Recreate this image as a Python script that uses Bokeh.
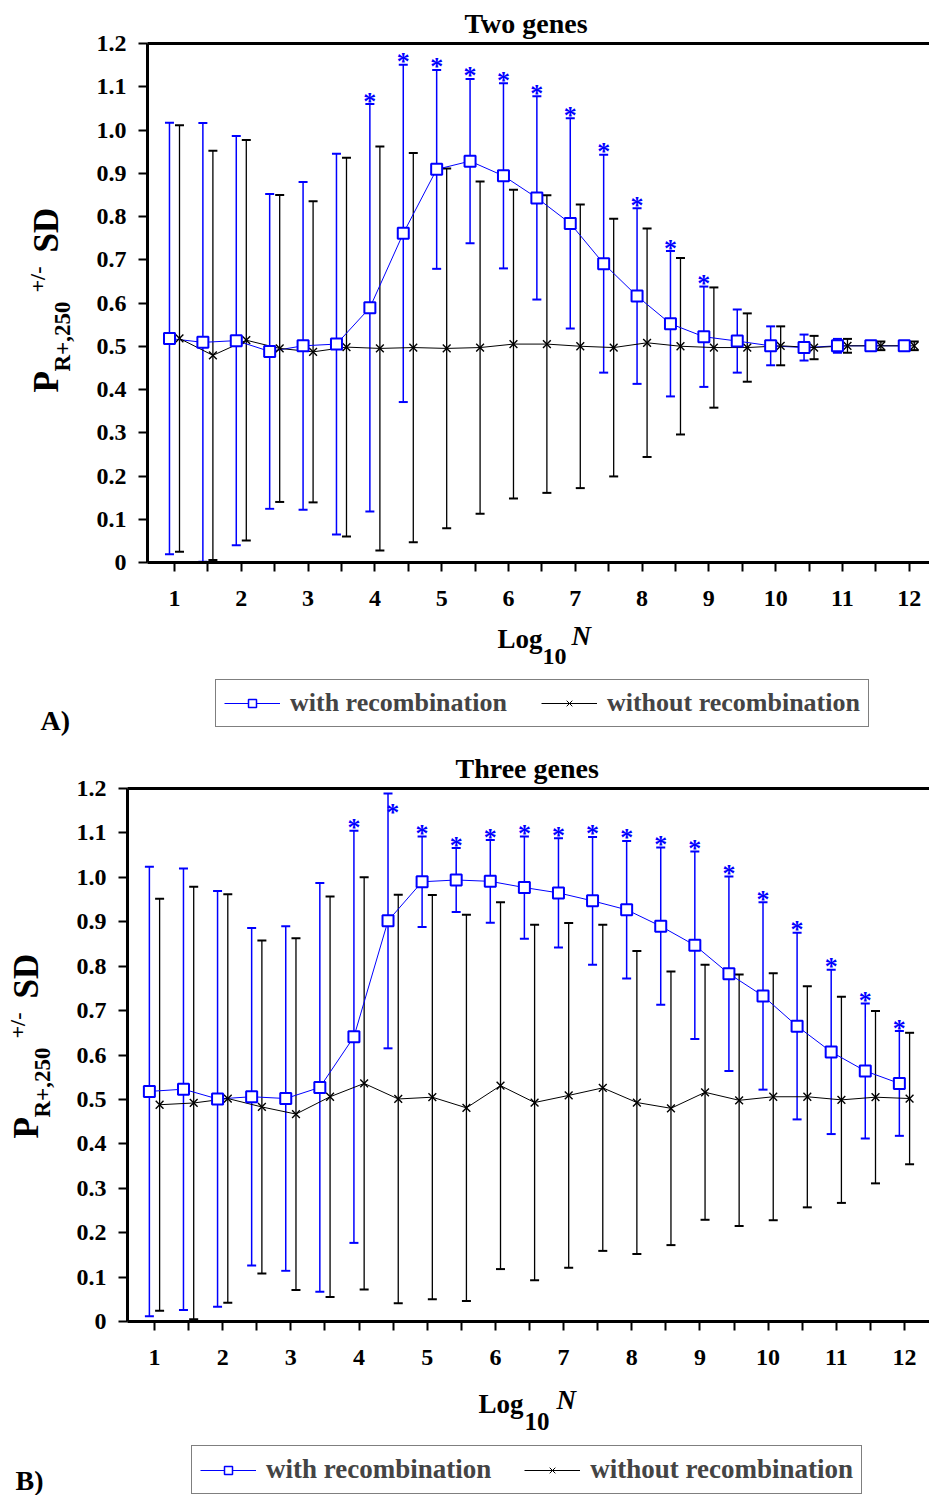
import math
from bokeh.plotting import figure
from bokeh.models import (Range1d, LinearAxis, FixedTicker, Legend, LegendItem, ColumnDataSource,
                          Title)
from bokeh.layouts import column, row
from bokeh.embed import file_html
from bokeh.resources import INLINE
from bokeh.core.properties import value

# ---------------- data ----------------
log10_n = [1.0, 1.5, 2.0, 2.5, 3.0, 3.5, 4.0, 4.5, 5.0, 5.5, 6.0, 6.5,
           7.0, 7.5, 8.0, 8.5, 9.0, 9.5, 10.0, 10.5, 11.0, 11.5, 12.0]

# A) Two genes
two_rec_mean = [0.518, 0.509, 0.513, 0.488, 0.501, 0.505, 0.589, 0.761, 0.909, 0.928, 0.894, 0.843,
                0.784, 0.691, 0.616, 0.552, 0.522, 0.512, 0.501, 0.497, 0.501, 0.501, 0.501]
two_rec_sd = [0.499, 0.507, 0.473, 0.364, 0.379, 0.440, 0.471, 0.390, 0.230, 0.190, 0.214, 0.235,
              0.243, 0.252, 0.203, 0.168, 0.116, 0.073, 0.045, 0.030, 0.016, 0.008, 0.008]
two_norec_mean = [0.518, 0.479, 0.514, 0.495, 0.487, 0.498, 0.495, 0.497, 0.495, 0.497, 0.505, 0.505,
                  0.500, 0.497, 0.508, 0.500, 0.497, 0.497, 0.501, 0.497, 0.501, 0.501, 0.501]
two_norec_sd = [0.493, 0.473, 0.463, 0.355, 0.348, 0.438, 0.467, 0.450, 0.416, 0.384, 0.357, 0.344,
                0.328, 0.298, 0.264, 0.204, 0.139, 0.079, 0.045, 0.027, 0.016, 0.010, 0.010]
two_signif = [0, 0, 0, 0, 0, 0, 1, 1, 1, 1, 1, 1, 1, 1, 1, 1, 1, 0, 0, 0, 0, 0, 0]

# B) Three genes
three_rec_mean = [0.518, 0.523, 0.501, 0.506, 0.502, 0.527, 0.641, 0.902, 0.990, 0.994, 0.991, 0.977,
                  0.965, 0.947, 0.927, 0.890, 0.847, 0.783, 0.733, 0.665, 0.607, 0.564, 0.536]
three_rec_sd = [0.506, 0.497, 0.468, 0.380, 0.388, 0.460, 0.464, 0.287, 0.102, 0.072, 0.093, 0.115,
                0.123, 0.144, 0.155, 0.177, 0.211, 0.219, 0.211, 0.210, 0.185, 0.152, 0.118]
three_norec_mean = [0.488, 0.492, 0.502, 0.483, 0.467, 0.506, 0.536, 0.501, 0.505, 0.481, 0.531, 0.493,
                    0.509, 0.526, 0.493, 0.480, 0.516, 0.498, 0.506, 0.506, 0.499, 0.505, 0.502]
three_norec_sd = [0.464, 0.487, 0.460, 0.375, 0.396, 0.451, 0.464, 0.460, 0.455, 0.435, 0.413, 0.400,
                  0.388, 0.367, 0.341, 0.308, 0.287, 0.283, 0.278, 0.249, 0.232, 0.194, 0.148]
three_signif = [0, 0, 0, 0, 0, 0, 1, 1, 1, 1, 1, 1, 1, 1, 1, 1, 1, 1, 1, 1, 1, 1, 1]

x_ticks = [1.0, 1.5, 2.0, 2.5, 3.0, 3.5, 4.0, 4.5, 5.0, 5.5, 6.0, 6.5,
           7.0, 7.5, 8.0, 8.5, 9.0, 9.5, 10.0, 10.5, 11.0, 11.5, 12.0]
y_ticks = [0.0, 0.1, 0.2, 0.3, 0.4, 0.5, 0.6, 0.7, 0.8, 0.9, 1.0, 1.1, 1.2]

SERIF = "Liberation Serif"
BLUE = "#0000FF"
BLACK = "#000000"
OFFSET = 0.075   # horizontal offset between the two series
W = 929
MID = 0.3375     # baseline sits this many ems below the "middle" anchor
NAN = float("nan")
BT, BB = 43, 60  # top / bottom borders of the chart figures


def text_fig(w, h, page_top, bt=0, bb=0):
    fh = h - bt - bb
    f = figure(width=w, height=h, output_backend="svg", toolbar_location=None,
               x_range=Range1d(0, w), y_range=Range1d(0, fh),
               min_border_left=0, min_border_right=0, min_border_top=bt, min_border_bottom=bb,
               x_axis_type=None, y_axis_type=None, title=None)
    f.xgrid.visible = False
    f.ygrid.visible = False
    f.outline_line_color = None
    f.background_fill_color = "white"
    f.border_fill_color = "white"
    f.tags = [page_top + bt, fh]     # page y of the frame top, frame height
    return f


def put(f, cx, cy, txt, size, style="bold", align="left", rotated=False):
    """cx: page x of text start; cy: page y of the text baseline (for rotated text,
    cx is the baseline x and cy the start y)."""
    ftop, fh = f.tags
    if rotated:
        x = cx - MID * size
        y = fh - (cy - ftop)
        angle = math.pi / 2
    else:
        x = cx
        y = fh - (cy - MID * size - ftop)
        angle = 0.0
    f.text(x=[x], y=[y], text=[txt], angle=angle,
           text_font=value(SERIF), text_font_style=style, text_font_size=f"{size}px",
           text_align=align, text_baseline="middle", text_color=BLACK)


def main_fig(width, height, left, x_start, x_end, title, title_offset,
             rec_mean, rec_sd, norec_mean, norec_sd, signif):
    p = figure(width=width, height=height, output_backend="svg", toolbar_location=None,
               x_range=Range1d(x_start, x_end), y_range=Range1d(0, 1.2),
               min_border_left=left, min_border_right=0, min_border_top=BT,
               min_border_bottom=BB)
    p.title = Title(text=title, align="left", offset=title_offset, standoff=9,
                    vertical_align="bottom", text_font=SERIF, text_font_style="bold",
                    text_font_size="28px", text_color=BLACK)
    p.xgrid.visible = False
    p.ygrid.visible = False
    p.outline_line_color = None
    p.background_fill_color = "white"
    p.border_fill_color = "white"

    for ax in (p.xaxis[0], p.yaxis[0]):
        ax.axis_line_width = 3
        ax.axis_line_color = BLACK
        ax.major_tick_line_width = 2
        ax.major_tick_line_color = BLACK
        ax.major_tick_out = 9
        ax.major_tick_in = 0
        ax.minor_tick_line_color = None
        ax.major_label_text_font = SERIF
        ax.major_label_text_font_style = "bold"
        ax.major_label_text_font_size = "24px"
        ax.major_label_text_color = BLACK
    p.xaxis.ticker = FixedTicker(ticks=x_ticks)
    p.xaxis.major_label_overrides = {t: (str(int(t)) if t == int(t) else "") for t in x_ticks}
    p.xaxis.major_label_standoff = 19
    p.yaxis.ticker = FixedTicker(ticks=y_ticks)
    p.yaxis.major_label_overrides = {t: ("0" if t == 0 else f"{t:.1f}") for t in y_ticks}
    p.yaxis.major_label_standoff = 12

    top = LinearAxis(ticker=FixedTicker(ticks=[]), axis_line_width=3, axis_line_color=BLACK,
                     major_label_text_font_size="0px", major_tick_line_color=None,
                     minor_tick_line_color=None, major_tick_out=0, major_label_standoff=0)
    p.add_layout(top, "above")

    xr = [x - OFFSET for x in log10_n]
    xn = [x + OFFSET for x in log10_n]
    rec = ColumnDataSource(dict(
        x=xr, m=rec_mean,
        lo=[m - s for m, s in zip(rec_mean, rec_sd)],
        hi=[m + s for m, s in zip(rec_mean, rec_sd)]))
    nor = ColumnDataSource(dict(
        x=xn, m=norec_mean,
        lo=[m - s for m, s in zip(norec_mean, norec_sd)],
        hi=[m + s for m, s in zip(norec_mean, norec_sd)]))

    p.segment(x0="x", y0="lo", x1="x", y1="hi", source=rec, line_color=BLUE, line_width=1.5)
    p.scatter(x="x", y="hi", source=rec, marker="dash", size=9, line_color=BLUE, line_width=2)
    p.scatter(x="x", y="lo", source=rec, marker="dash", size=9, line_color=BLUE, line_width=2)
    p.segment(x0="x", y0="lo", x1="x", y1="hi", source=nor, line_color=BLACK, line_width=1.3)
    p.scatter(x="x", y="hi", source=nor, marker="dash", size=9, line_color=BLACK, line_width=2)
    p.scatter(x="x", y="lo", source=nor, marker="dash", size=9, line_color=BLACK, line_width=2)

    p.line(x="x", y="m", source=rec, line_color=BLUE, line_width=1)
    p.line(x="x", y="m", source=nor, line_color=BLACK, line_width=1)
    p.scatter(x="x", y="m", source=nor, marker="x", size=11, line_color=BLACK, line_width=1.4)
    p.scatter(x="x", y="m", source=rec, marker="square", size=11, fill_color="white",
              line_color=BLUE, line_width=2)

    ax_, ay_ = [], []
    for x, m, s, f in zip(xr, rec_mean, rec_sd, signif):
        if f:
            hi = m + s
            if hi > 1.175:
                ax_.append(x + 0.07)
                ay_.append(hi - 0.05)
            else:
                ax_.append(x)
                ay_.append(hi)
    ast = ColumnDataSource(dict(x=ax_, y=ay_, t=["*"] * len(ax_)))
    p.text(x="x", y="y", text="t", source=ast, text_font=value(SERIF), text_font_style="bold",
           text_font_size="26px", text_color=BLUE, text_align="center",
           text_baseline="middle", y_offset=-3)
    return p


def ylabel(f, dx, dy):
    # P_{R+,250} ^{+/-} SD, rotated, reading bottom to top
    # (baseline x, start y, font size) measured on the page for panel A
    pieces = [("P", 58, 392, 35), ("R+,250", 70, 371, 23),
              ("+/-", 44, 292, 22), ("SD", 58, 252, 35)]
    for txt, bx, by, fs in pieces:
        put(f, bx + dx, by + dy, txt, fs, rotated=True)


def legend_fig(f, vx, vy, font, pad, spacing):
    l1 = f.line(x=[NAN], y=[NAN], line_color=BLUE, line_width=1)
    s1 = f.scatter(x=[NAN], y=[NAN], marker="square", size=11, fill_color="white",
                   line_color=BLUE, line_width=1.5)
    l2 = f.line(x=[NAN], y=[NAN], line_color=BLACK, line_width=1)
    s2 = f.scatter(x=[NAN], y=[NAN], marker="x", size=10, line_color=BLACK, line_width=1)
    legend = Legend(items=[LegendItem(label="with recombination", renderers=[l1, s1]),
                           LegendItem(label="without recombination", renderers=[l2, s2])],
                    orientation="horizontal", location=(vx, vy),
                    border_line_color=BLACK, border_line_width=1.5,
                    label_text_font=SERIF, label_text_font_style="bold",
                    label_text_font_size=font, glyph_width=56, glyph_height=20,
                    label_standoff=10, spacing=spacing, padding=pad, margin=0,
                    background_fill_color="white", background_fill_alpha=1)
    f.add_layout(legend)


# ---------------- panel A ----------------
A_MAIN_H = BT + 519 + BB
leftA = text_fig(85, A_MAIN_H, 0, BT, BB)
ylabel(leftA, 0, 0)
mainA = main_fig(W - 85, A_MAIN_H, 62, 0.596, 12.303, "Two genes", 317,
                 two_rec_mean, two_rec_sd, two_norec_mean, two_norec_sd, two_signif)

bA_top = A_MAIN_H
bA = text_fig(W, 745 - bA_top, bA_top)
put(bA, 497, 648, "Log", 27)
put(bA, 542, 664, "10", 24)
put(bA, 571, 645, "N", 27, style="bold italic")
put(bA, 40, 729, "A)", 28)
legend_fig(bA, 215, 18, "26px", 8, 34)

# ---------------- panel B ----------------
B0 = 745
B_MAIN_H = BT + 533 + BB
leftB = text_fig(65, B_MAIN_H, B0, BT, BB)
ylabel(leftB, -20, 746)
mainB = main_fig(W - 65, B_MAIN_H, 62, 0.604, 12.367, "Three genes", 328,
                 three_rec_mean, three_rec_sd, three_norec_mean, three_norec_sd, three_signif)

bB_top = B0 + B_MAIN_H
bB = text_fig(W, 1495 - bB_top, bB_top)
put(bB, 478, 1413, "Log", 27)
put(bB, 524, 1429, "10", 25)
put(bB, 556, 1409, "N", 27, style="bold italic")
put(bB, 15, 1489, "B)", 28)
legend_fig(bB, 191, 1, "27px", 8, 33)

layout = column(row(leftA, mainA), bA, row(leftB, mainB), bB)
open("out.html", "w").write(file_html(layout, INLINE))
